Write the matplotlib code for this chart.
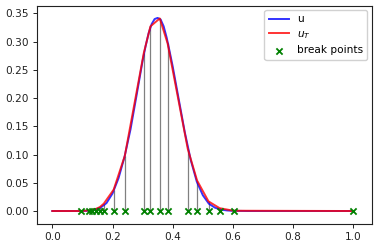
import matplotlib
matplotlib.use("Agg")
import matplotlib.pyplot as plt

# smooth function u
u_x = [0.0, 0.05, 0.10, 0.12, 0.14, 0.16, 0.18, 0.20, 0.22, 0.24, 0.26, 0.28, 0.30,
       0.31, 0.32, 0.33, 0.34, 0.35, 0.36, 0.37, 0.38, 0.39, 0.40, 0.42, 0.44, 0.46,
       0.48, 0.50, 0.52, 0.54, 0.56, 0.58, 0.60, 0.65, 0.70, 0.80, 0.90, 1.0]
u_y = [0.0, 0.0, 0.0, 0.0005, 0.002, 0.006, 0.014, 0.031, 0.058, 0.096, 0.145, 0.205, 0.266,
       0.292, 0.315, 0.331, 0.340, 0.342, 0.339, 0.327, 0.307, 0.282, 0.256, 0.198, 0.140, 0.090,
       0.052, 0.028, 0.013, 0.006, 0.0025, 0.001, 0.0003, 0.0, 0.0, 0.0, 0.0, 0.0]

# break points and interpolant values
bp_x = [0.094, 0.122, 0.133, 0.146, 0.158, 0.171, 0.204, 0.241, 0.304, 0.326, 0.357,
        0.383, 0.450, 0.481, 0.519, 0.556, 0.602, 1.0]
bp_y = [0.0, 0.001, 0.002, 0.004, 0.007, 0.013, 0.038, 0.098, 0.280, 0.327, 0.341,
        0.297, 0.110, 0.054, 0.017, 0.005, 0.0005, 0.0]

# interpolant u_T (starts at 0)
uT_x = [0.0] + bp_x
uT_y = [0.0] + bp_y

fig = plt.figure(figsize=(3.78, 2.48), dpi=100)
ax = fig.add_axes([0.0971, 0.0968, 0.8862, 0.880])
fs = 7.6

ax.vlines(bp_x, 0, bp_y, colors="grey", linewidth=0.9, zorder=1)
ax.plot(u_x, u_y, color="blue", linewidth=1.4, label="u", alpha=0.8, zorder=2)
ax.plot(uT_x, uT_y, color="red", linewidth=1.4, label="$u_T$", alpha=0.8, zorder=3)
ax.scatter(bp_x, [0.0] * len(bp_x), marker="x", color="green", s=20, linewidths=1.3,
           label="break points", zorder=4)

ax.set_xlim(-0.0518, 1.061)
ax.set_ylim(-0.023, 0.3635)
ax.set_xticks([0.0, 0.2, 0.4, 0.6, 0.8, 1.0])
ax.set_yticks([0.0, 0.05, 0.10, 0.15, 0.20, 0.25, 0.30, 0.35])
ax.set_yticklabels(["0.00", "0.05", "0.10", "0.15", "0.20", "0.25", "0.30", "0.35"])
ax.tick_params(labelsize=fs, length=3, width=0.7, colors="#222222", pad=2.5)
for s in ax.spines.values():
    s.set_color("#222222")
    s.set_linewidth(0.8)

ax.legend(loc="upper right", fontsize=fs, framealpha=0.9, borderaxespad=0.4,
          handlelength=1.9, labelspacing=0.45)

fig.savefig("out.png", dpi=100)
